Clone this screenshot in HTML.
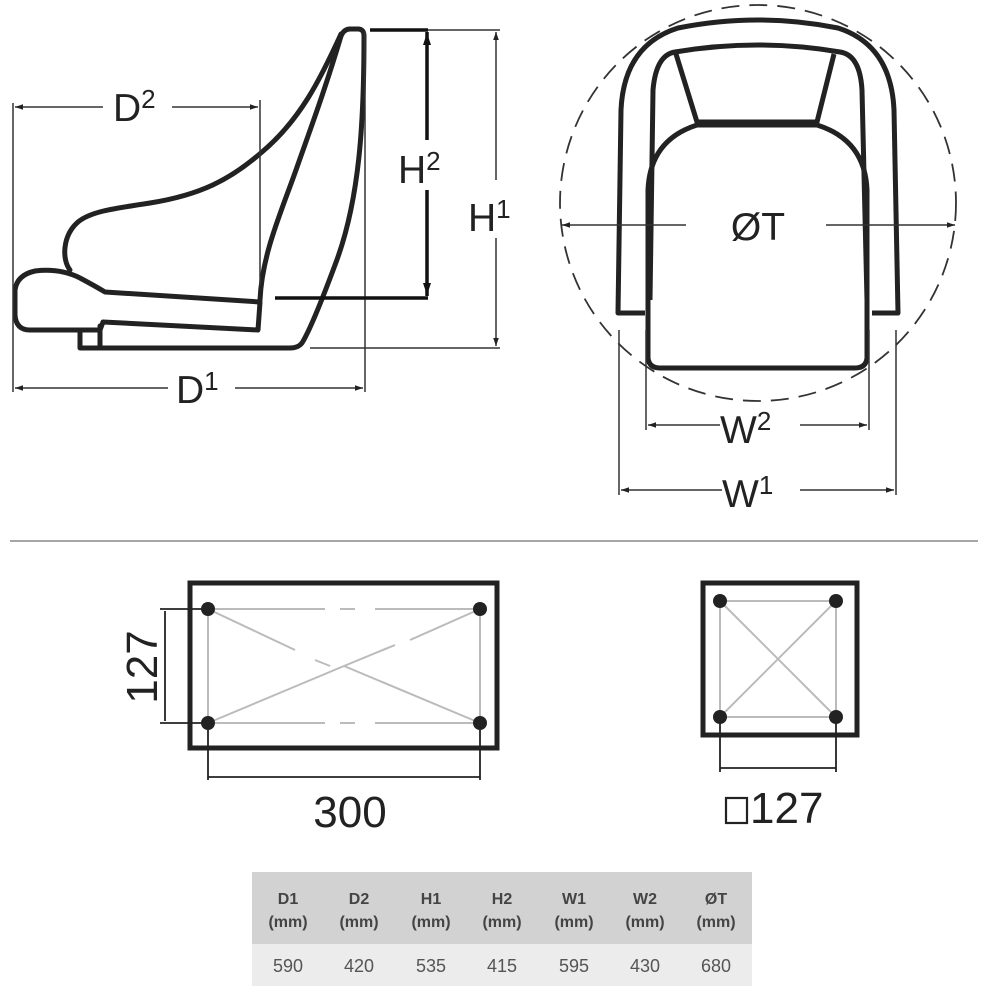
<!DOCTYPE html>
<html><head><meta charset="utf-8"><style>
html,body{margin:0;padding:0;background:#fff;}
svg{display:block;}
text{font-family:"Liberation Sans","DejaVu Sans",sans-serif;}
</style></head><body>
<svg width="1000" height="1000" viewBox="0 0 1000 1000" xmlns="http://www.w3.org/2000/svg">
<defs>
<marker id="ar" viewBox="0 0 10 10" refX="10" refY="5" markerWidth="10" markerHeight="8" orient="auto-start-reverse" markerUnits="userSpaceOnUse">
<path d="M0,1.5 L10,5 L0,8.5 Z" fill="#222"/></marker>
</defs>
<rect width="1000" height="1000" fill="#fff"/>

<!-- SIDE VIEW -->
<g fill="none" stroke="#222" stroke-width="5" stroke-linejoin="round" stroke-linecap="round">
<path d="M341,34 C320,80 300,120 262,152 C230,180 200,195 150,203 C110,209 90,212 78,222 C62,236 62,260 70,270"/>
<path d="M341,36 C325,90 310,130 296,170 C280,215 262,255 260,300"/>
<path d="M341,36 Q344,29 350,29 L358,29 Q364,29 364,36"/>
<path d="M364,36 C364,120 360,200 335,265 C322,300 310,330 302,343 Q298,348 290,348 L80,348 L80,330"/>
<path d="M105,292 L260,302 L258,330 L103,322 L100,330 L30,330 Q16,330 15,315 L15,290 Q17,275 35,271 Q60,268 80,278 Q95,286 105,292 Z"/>
<path d="M100,326 L100,348"/>
</g>
<g stroke="#333" stroke-width="1.5" fill="none">
<line x1="13" y1="103" x2="13" y2="392"/>
<line x1="260" y1="100" x2="260" y2="285"/>
<line x1="365" y1="32" x2="365" y2="392"/>
<line x1="15" y1="107" x2="103" y2="107" marker-start="url(#ar)"/>
<line x1="172" y1="107" x2="258" y2="107" marker-end="url(#ar)"/>
<line x1="15" y1="388" x2="168" y2="388" marker-start="url(#ar)"/>
<line x1="235" y1="388" x2="363" y2="388" marker-end="url(#ar)"/>
<line x1="370" y1="30" x2="500" y2="30"/>
<line x1="310" y1="348" x2="500" y2="348"/>
<line x1="496" y1="32" x2="496" y2="180" marker-start="url(#ar)"/>
<line x1="496" y1="238" x2="496" y2="346" marker-end="url(#ar)"/>
</g>
<g stroke="#111" stroke-width="3.5">
<line x1="370" y1="30" x2="428" y2="30"/>
<line x1="275" y1="298" x2="428" y2="298"/>
<line x1="427" y1="32" x2="427" y2="140"/>
<line x1="427" y1="190" x2="427" y2="296"/>
</g>
<path d="M427,33 l-4,12 l8,0 Z M427,295 l-4,-12 l8,0 Z" fill="#111"/>
<g fill="#222" font-size="39">
<text x="113" y="121">D<tspan font-size="26" dy="-13">2</tspan></text>
<text x="176" y="403">D<tspan font-size="26" dy="-13">1</tspan></text>
<text x="398" y="183">H<tspan font-size="26" dy="-13">2</tspan></text>
<text x="468" y="231">H<tspan font-size="26" dy="-13">1</tspan></text>
</g>

<!-- FRONT VIEW -->
<circle cx="758" cy="203" r="198" fill="none" stroke="#333" stroke-width="1.8" stroke-dasharray="18,10"/>
<g fill="none" stroke="#222" stroke-width="5" stroke-linejoin="round">
<path d="M645,313 L618,313 L621,110 Q624,45 678,28 Q758,12 838,28 Q891,45 894,110 L898,313 L872,313"/>
<path d="M650,300 L653,90 Q656,55 675,52 Q758,38 840,52 Q860,55 862,90 L867,300"/>
<path d="M676,54 L697,122 L817,122 L834,54"/>
<path d="M648,190 Q650,140 697,125 L817,125 Q865,140 867,190 L867,358 Q866,368 855,368 L660,368 Q649,368 648,358 Z"/>
</g>
<g stroke="#333" stroke-width="1.5" fill="none">
<line x1="562" y1="225" x2="686" y2="225" marker-start="url(#ar)"/>
<line x1="826" y1="225" x2="955" y2="225" marker-end="url(#ar)"/>
<line x1="646" y1="330" x2="646" y2="430"/>
<line x1="869" y1="330" x2="869" y2="430"/>
<line x1="619" y1="330" x2="619" y2="495"/>
<line x1="896" y1="330" x2="896" y2="495"/>
<line x1="648" y1="425" x2="720" y2="425" marker-start="url(#ar)"/>
<line x1="800" y1="425" x2="867" y2="425" marker-end="url(#ar)"/>
<line x1="621" y1="490" x2="722" y2="490" marker-start="url(#ar)"/>
<line x1="800" y1="490" x2="894" y2="490" marker-end="url(#ar)"/>
</g>
<g fill="#222" font-size="39">
<text x="758" y="240" text-anchor="middle">ØT</text>
<text x="720" y="443">W<tspan font-size="26" dy="-13">2</tspan></text>
<text x="722" y="507">W<tspan font-size="26" dy="-13">1</tspan></text>
</g>

<line x1="10" y1="541" x2="978" y2="541" stroke="#888" stroke-width="1.5"/>

<!-- BOTTOM LEFT -->
<rect x="190" y="583" width="307" height="165" fill="none" stroke="#222" stroke-width="5"/>
<g stroke="#bbb" stroke-width="2" fill="none">
<line x1="208" y1="609" x2="208" y2="723"/>
<line x1="480" y1="609" x2="480" y2="723"/>
<path d="M208,609 H325 M340,609 H355 M375,609 H480"/>
<path d="M208,723 H325 M340,723 H355 M375,723 H480"/>
<path d="M208,609 L295,650 M315,660 L330,666 M344,666 L480,723"/>
<path d="M208,723 L344,666 L395,645 M410,640 L480,609"/>
</g>
<g fill="#222">
<circle cx="208" cy="609" r="7"/><circle cx="480" cy="609" r="7"/>
<circle cx="208" cy="723" r="7"/><circle cx="480" cy="723" r="7"/>
</g>
<g stroke="#222" stroke-width="1.8" fill="none">
<line x1="160" y1="609" x2="208" y2="609"/>
<line x1="160" y1="723" x2="208" y2="723"/>
<line x1="165" y1="611" x2="165" y2="721"/>
<line x1="208" y1="723" x2="208" y2="780"/>
<line x1="480" y1="723" x2="480" y2="780"/>
<line x1="208" y1="777" x2="480" y2="777"/>
</g>
<g fill="#222" font-size="44">
<text x="350" y="827" text-anchor="middle">300</text>
<text transform="translate(157,667) rotate(-90)" text-anchor="middle">127</text>
</g>

<!-- BOTTOM RIGHT -->
<rect x="703" y="583" width="154" height="152" fill="none" stroke="#222" stroke-width="5"/>
<g stroke="#bbb" stroke-width="2" fill="none">
<rect x="720" y="601" width="116" height="116"/>
<line x1="720" y1="601" x2="836" y2="717"/>
<line x1="836" y1="601" x2="720" y2="717"/>
</g>
<g fill="#222">
<circle cx="720" cy="601" r="7"/><circle cx="836" cy="601" r="7"/>
<circle cx="720" cy="717" r="7"/><circle cx="836" cy="717" r="7"/>
</g>
<g stroke="#222" stroke-width="1.8" fill="none">
<line x1="720" y1="717" x2="720" y2="772"/>
<line x1="836" y1="717" x2="836" y2="772"/>
<line x1="720" y1="768" x2="836" y2="768"/>
<rect x="726" y="798" width="21" height="25" stroke-width="2.2"/>
</g>
<text x="750" y="823" fill="#222" font-size="44">127</text>

<!-- TABLE -->
<rect x="252" y="872" width="500" height="72" fill="#d2d2d2"/>
<rect x="252" y="944" width="500" height="42" fill="#ececec"/>
<g font-size="16" font-weight="bold" fill="#444" text-anchor="middle">
<text x="288" y="904">D1</text><text x="288" y="927">(mm)</text>
<text x="359" y="904">D2</text><text x="359" y="927">(mm)</text>
<text x="431" y="904">H1</text><text x="431" y="927">(mm)</text>
<text x="502" y="904">H2</text><text x="502" y="927">(mm)</text>
<text x="574" y="904">W1</text><text x="574" y="927">(mm)</text>
<text x="645" y="904">W2</text><text x="645" y="927">(mm)</text>
<text x="716" y="904">ØT</text><text x="716" y="927">(mm)</text>
</g>
<g font-size="18" fill="#555" text-anchor="middle">
<text x="288" y="972">590</text><text x="359" y="972">420</text><text x="431" y="972">535</text>
<text x="502" y="972">415</text><text x="574" y="972">595</text><text x="645" y="972">430</text>
<text x="716" y="972">680</text>
</g>
</svg>
</body></html>
